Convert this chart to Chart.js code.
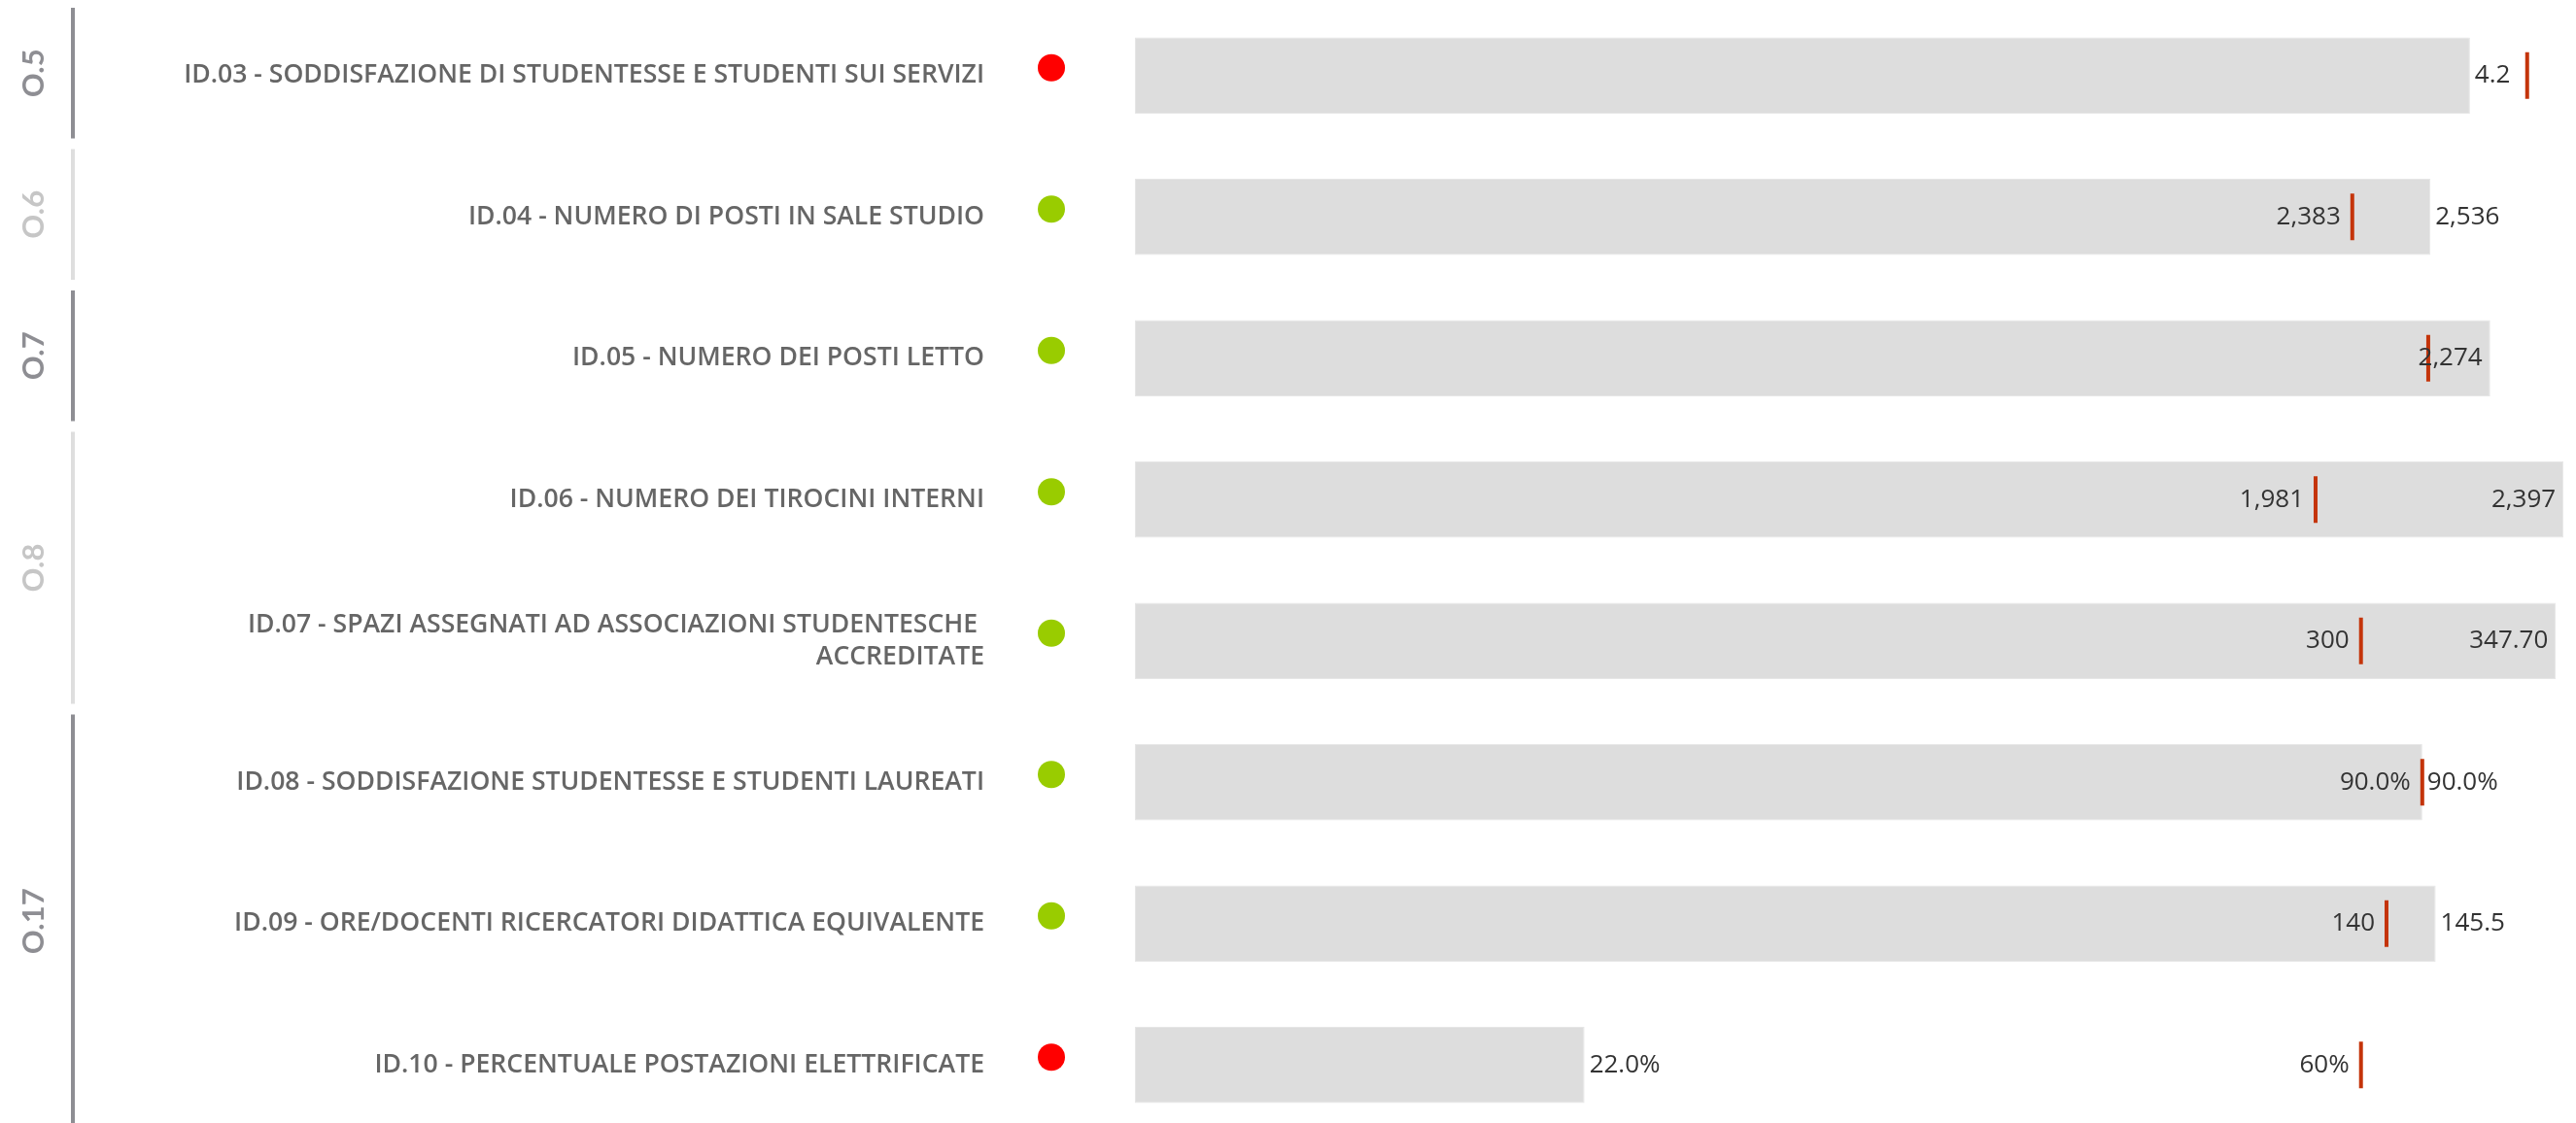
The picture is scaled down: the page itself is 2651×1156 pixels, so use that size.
<!DOCTYPE html>
<html>
<head>
<meta charset="utf-8">
<script src="https://cdn.jsdelivr.net/npm/chart.js@4/dist/chart.umd.min.js"></script>
<style>
  html, body { margin: 0; padding: 0; background: #fff; overflow: hidden; }
  #wrap { position: relative; width: 2651px; height: 1169px; }
</style>
</head>
<body>
<div id="wrap"><canvas id="bulletChart"></canvas></div>
<script>
// Data ------------------------------------------------------------

const categories = [
  'ID.03 - SODDISFAZIONE DI STUDENTESSE E STUDENTI SUI SERVIZI',
  'ID.04 - NUMERO DI POSTI IN SALE STUDIO',
  'ID.05 - NUMERO DEI POSTI LETTO',
  'ID.06 - NUMERO DEI TIROCINI INTERNI',
  ['ID.07 - SPAZI ASSEGNATI AD ASSOCIAZIONI STUDENTESCHE ', 'ACCREDITATE'],
  'ID.08 - SODDISFAZIONE STUDENTESSE E STUDENTI LAUREATI',
  'ID.09 - ORE/DOCENTI RICERCATORI DIDATTICA EQUIVALENTE',
  'ID.10 - PERCENTUALE POSTAZIONI ELETTRIFICATE'
];

const actual  = [4.2, 2536, 2274, 2397, 347.7, 90, 145.5, 22];
const target  = [4.38, 2383, 2170, 1981, 300, 90, 140, 60];
const axisMax = [4.5, 2800, 2400, 2400, 350, 100, 160, 70]; // each row has its own scale

const actualText = ['4.2', '2,536', '2,274', '2,397', '347.70', '90.0%', '145.5', '22.0%'];
const targetText = ['4.38', '2,383', '2,170', '1,981', '300', '90.0%', '140', '60%'];

const status = ['red', 'green', 'green', 'green', 'green', 'green', 'green', 'red'];

const groups    = ['O.5', 'O.6', 'O.7', 'O.8', 'O.17'];
const groupRows = [1, 1, 1, 2, 3];

// Styles ------------------------------------------------------------

const statusColor = { red: '#ff0000', green: '#99cc00' };
const groupDark  = { text: '#8e8e93', line: '#8e8e93' };
const groupLight = { text: '#c6c6c6', line: '#dedede' };
const labelFont = '400 26px "Open Sans"';

// bars and targets as fraction of the row's own axis
const actualShare = actual.map((v, i) => v / axisMax[i]);
const targetShare = target.map((v, i) => v / axisMax[i]);

// group bands, status dots and value labels
const bulletExtras = {
  id: 'bulletExtras',
  afterDatasetsDraw(chart) {
    const ctx = chart.ctx;
    const x = chart.scales.x;
    const y = chart.scales.y;
    const area = chart.chartArea;
    const step = y.getPixelForValue(1) - y.getPixelForValue(0);

    ctx.save();

    // value / target labels, target label hidden when it collides
    ctx.font = labelFont;
    ctx.fillStyle = '#333333';
    ctx.textBaseline = 'middle';
    for (let i = 0; i < categories.length; i++) {
      const cy = y.getPixelForValue(i);
      const barEnd = x.getPixelForValue(actualShare[i]);
      const tx = x.getPixelForValue(targetShare[i]);

      const vw = ctx.measureText(actualText[i]).width;
      let vLeft = barEnd + 5;
      if (vLeft + vw > area.right - 15) {
        vLeft = barEnd - 8 - vw;
      }
      ctx.textAlign = 'left';
      ctx.fillText(actualText[i], vLeft, cy);

      const tw = ctx.measureText(targetText[i]).width;
      const tRight = tx - 12;
      const tLeft = tRight - tw;
      const overlap = tRight > vLeft - 5 && tLeft < vLeft + vw + 5;
      if (!overlap) {
        ctx.textAlign = 'right';
        ctx.fillText(targetText[i], tRight, cy);
      }
    }

    // status dots
    for (let i = 0; i < categories.length; i++) {
      const cy = y.getPixelForValue(i) - 8;
      ctx.beginPath();
      ctx.arc(area.left - 86, cy, 14, 0, Math.PI * 2);
      ctx.fillStyle = statusColor[status[i]];
      ctx.fill();
    }

    // group bands on the left
    let start = 0;
    groups.forEach((g, gi) => {
      const end = start + groupRows[gi] - 1;
      const top = y.getPixelForValue(start) - step / 2 + 3;
      const bottom = y.getPixelForValue(end) + step / 2 - 8;
      const col = gi % 2 === 0 ? groupDark : groupLight;

      ctx.fillStyle = col.line;
      ctx.fillRect(73, top, 4, bottom - top);

      ctx.save();
      ctx.translate(35, (top + bottom) / 2);
      ctx.rotate(-Math.PI / 2);
      ctx.font = 'bold 31px Lato';
      ctx.fillStyle = col.text;
      ctx.textAlign = 'center';
      ctx.textBaseline = 'middle';
      ctx.fillText(g, 0, 0);
      ctx.restore();

      start = end + 1;
    });

    ctx.restore();
  }
};

const config = {
  type: 'bar',
  data: {
    labels: categories,
    datasets: [{
      label: 'Valore',
      data: actualShare,
      backgroundColor: '#dddddd',
      borderColor: '#e6e6e6',
      borderWidth: 1,
      borderSkipped: false,
      categoryPercentage: 0.6,
      barPercentage: 0.9,
      order: 2
    }, {
      type: 'line',
      label: 'Target',
      data: targetShare,
      indexAxis: 'y',
      showLine: false,
      pointStyle: 'line',
      pointRotation: 90,
      pointRadius: 24,
      pointBorderWidth: 4,
      pointBorderColor: '#c4340a',
      pointBackgroundColor: '#c4340a',
      order: 1
    }]
  },
  options: {
    indexAxis: 'y',
    responsive: true,
    maintainAspectRatio: false,
    animation: false,
    events: [],
    layout: { autoPadding: false, padding: { top: 5, right: 11, bottom: 0, left: 0 } },
    plugins: {
      legend: { display: false },
      tooltip: { enabled: false }
    },
    scales: {
      x: {
        display: false,
        min: 0,
        max: 1
      },
      y: {
        grid: { display: false, drawTicks: false },
        border: { display: false },
        afterFit: (scale) => {
          scale.width = 1168;
          scale.paddingTop = 0;
          scale.paddingBottom = 0;
        },
        ticks: {
          padding: 155,
          color: '#666666',
          font: { family: '"Open Sans"', size: 26.6, weight: 600, lineHeight: 1.24 }
        }
      }
    }
  },
  plugins: [bulletExtras]
};

new Chart(document.getElementById('bulletChart'), config);
</script>
</body>
</html>
